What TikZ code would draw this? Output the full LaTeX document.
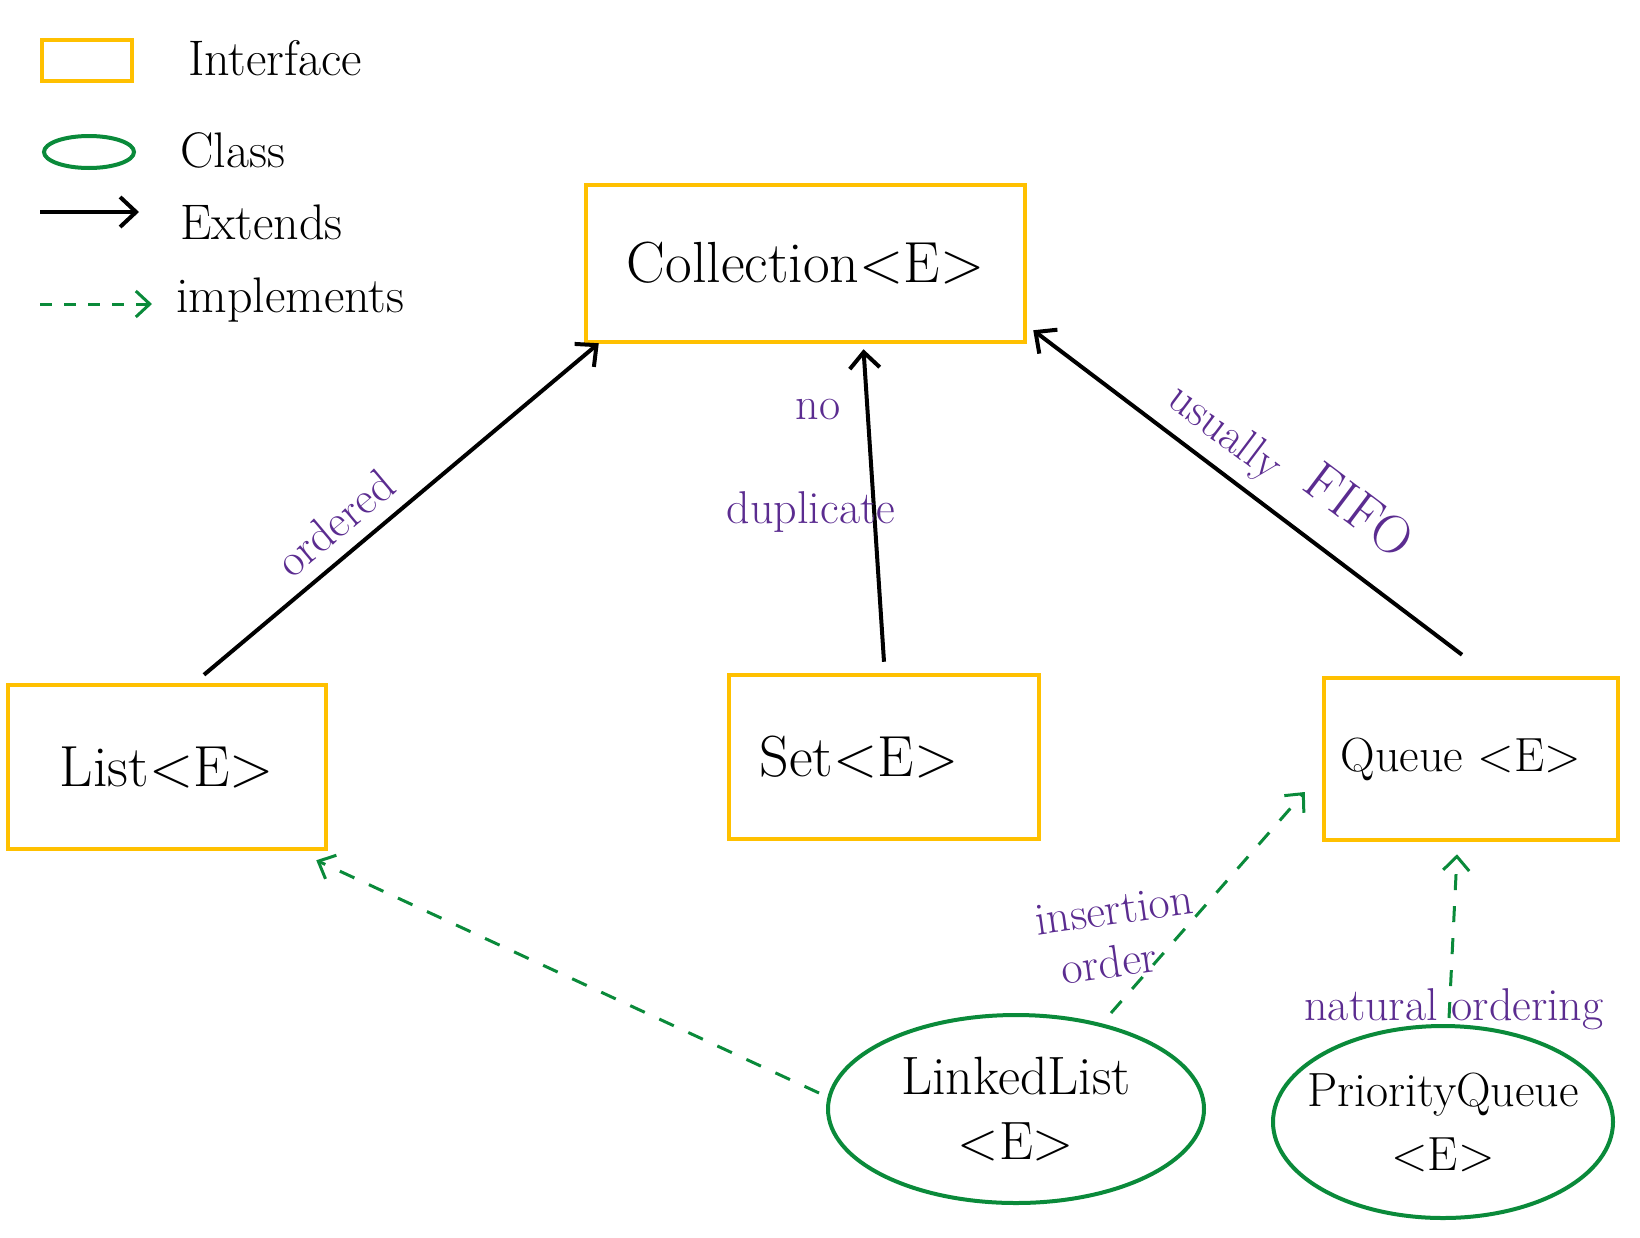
\documentclass[tikz,border=0pt]{standalone}
\usetikzlibrary{arrows.meta,shapes.geometric,calc}
\definecolor{ifyellow}{HTML}{FFC000}
\definecolor{clgreen}{HTML}{0A8A3A}
\definecolor{lblpurple}{HTML}{5B2C90}
\tikzset{
  iface/.style={draw=ifyellow, line width=4.5pt, rectangle, inner sep=0pt, font=\fontsize{58}{66}\selectfont},
  cls/.style={draw=clgreen, line width=4pt, ellipse, inner sep=-30pt, align=center, font=\fontsize{54}{64}\selectfont},
  extends/.style={draw=black, line width=4pt, -{Straight Barb[length=16pt,width=30pt,line width=4pt]}},
  impl/.style={draw=clgreen, line width=3pt, dash pattern=on 16pt off 16pt, -{Straight Barb[length=14pt,width=26pt,line width=3pt]}},
  lbl/.style={text=lblpurple, font=\fontsize{46}{52}\selectfont, inner sep=0pt},
  legtext/.style={anchor=west, font=\fontsize{50}{58}\selectfont, inner sep=0pt}
}
\begin{document}
\begin{tikzpicture}[x=1pt,y=-1pt]
\useasboundingbox (0,0) rectangle (1640,1237);
% legend
\node[draw=ifyellow, line width=4.5pt, minimum width=90pt, minimum height=41pt, inner sep=0pt] (legrect) at (87,60.5) {};
\node[legtext] (legif) at (188,58) {Interface};
\node[draw=clgreen, line width=4pt, ellipse, minimum width=90pt, minimum height=32pt, inner sep=0pt] (legell) at (89,152) {};
\node[legtext] (legcl) at (180,150) {Class};
\coordinate (lega1) at (40,212);
\coordinate (lega2) at (139,212);
\draw[extends] (lega1) -- (lega2);
\node[legtext] (legex) at (180,222) {Extends};
\coordinate (legb1) at (40,304);
\coordinate (legb2) at (152,304);
\draw[impl, dash pattern=on 12pt off 12pt] (legb1) -- (legb2);
\node[legtext] (legim) at (176,300) {implements};
% interfaces
\node[iface, minimum width=439pt, minimum height=157pt] (coll) at (805.5,263.5) {Collection<E>};
\node[iface, minimum width=318pt, minimum height=164pt] (list) at (167,767) {List<E>};
\node[iface, minimum width=310pt, minimum height=164pt] (set) at (884,757) {\hspace*{-50pt}Set<E>};
\node[iface, minimum width=294pt, minimum height=162pt, font=\fontsize{48}{56}\selectfont] (queue) at (1471,759) {\hspace*{-20pt}Queue <E>};
% classes
\node[cls, minimum width=376pt, minimum height=188pt] (ll) at (1016,1109) {LinkedList\\<E>};
\node[cls, minimum width=340pt, minimum height=192pt, font=\fontsize{48}{64}\selectfont] (pq) at (1443,1122) {PriorityQueue\\<E>};
% extends
\draw[extends] ([shift={(37,-8)}]list.north) -- ([shift={(15,-1)}]coll.south west);
\draw[extends] ([shift={(0,-11)}]set.north) -- ([shift={(58,5)}]coll.south);
\draw[extends] ([shift={(-9,-21)}]queue.north) -- ([shift={(6,-14)}]coll.south east);
% implements
\draw[impl] ([shift={(-7,-16)}]ll.west) -- ([shift={(-12,9)}]list.south east);
\draw[impl] ([shift={(95,0)}]ll.north) -- ([shift={(-17,33)}]queue.west);
\draw[impl] ([shift={(6,-6)}]pq.north) -- ([shift={(-14,12)}]queue.south);
% labels
\node[lbl, rotate=40] (lordered) at (335,523) {ordered};
\node[lbl] (lno) at (818,410) {no};
\node[lbl] (ldup) at (811,512) {duplicate};
\node[lbl, rotate=-37] (lusually) at (1224,434) {usually};
\node[lbl, rotate=-37, font=\fontsize{54}{60}\selectfont] (lfifo) at (1360,510) {FIFO};
\node[lbl, rotate=8] (lins) at (1114,910) {insertion};
\node[lbl, rotate=8] (lord) at (1109,962) {order};
\node[lbl] (lnat) at (1454,1009) {natural ordering};
\end{tikzpicture}
\end{document}
